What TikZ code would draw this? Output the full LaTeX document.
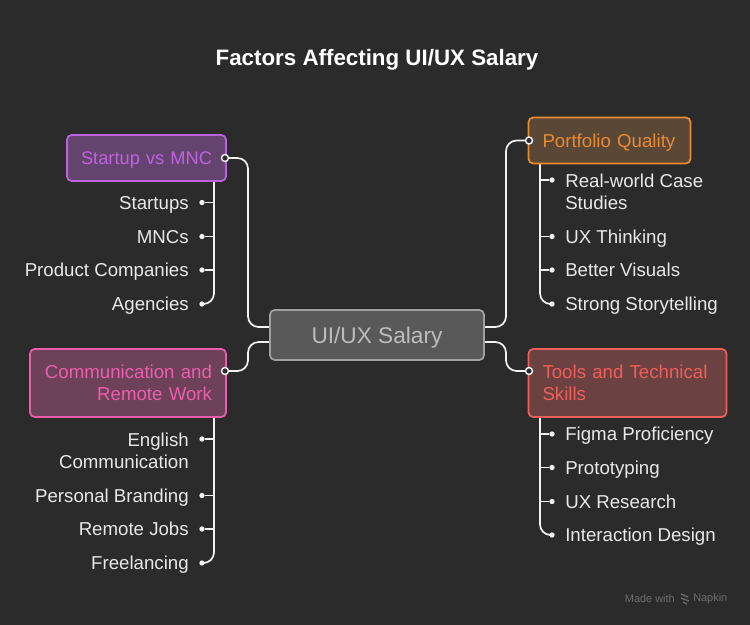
\documentclass[tikz,border=0pt]{standalone}
\usepackage{fontspec}
\setmainfont{Liberation Sans}
\definecolor{backgr}{HTML}{2B2B2B}
\definecolor{itemtext}{HTML}{E8E8E8}
\definecolor{wirecol}{HTML}{F2F2F2}
\definecolor{centrefill}{HTML}{595959}
\definecolor{centreline}{HTML}{A0A0A0}
\definecolor{centretext}{HTML}{BDBDBD}
\definecolor{startupcol}{HTML}{BE62E0}
\definecolor{startupfill}{HTML}{64446F}
\definecolor{portfoliocol}{HTML}{E98A30}
\definecolor{portfoliofill}{HTML}{5B4736}
\definecolor{commcol}{HTML}{EC5EAB}
\definecolor{commfill}{HTML}{6C4159}
\definecolor{toolscol}{HTML}{EE5F59}
\definecolor{toolsfill}{HTML}{6C4141}
\definecolor{brandcol}{HTML}{6E6E6E}
\pgfdeclarelayer{back}
\pgfdeclarelayer{wires}
\pgfsetlayers{back,wires,main}
\newcommand{\linestrut}{\rule[-3.45pt]{0pt}{16.9pt}}
\tikzset{
	labelfont/.style={font=\fontsize{14}{16.9}\selectfont, execute at begin node=\linestrut, execute at end node=\linestrut},
	box/.style={draw, rounded corners=3.5pt, line width=1.3pt, inner xsep=10.5pt, inner ysep=0pt, labelfont},
	wire/.style={draw=wirecol, line width=1.3pt, rounded corners=8pt},
	itemleft/.style={anchor=east, align=right, text=itemtext, inner sep=0pt, labelfont},
	itemright/.style={anchor=west, align=left, text=itemtext, inner sep=0pt, labelfont},
	subdot/.style={circle, fill=wirecol, inner sep=0pt, minimum size=4pt},
	portdot/.style={circle, draw=wirecol, fill=backgr, line width=1.1pt, inner sep=0pt, minimum size=5.2pt}
}
\begin{document}
\begin{tikzpicture}[x=0.75pt, y=-0.75pt]
	\begin{pgfonlayer}{back}
	\fill[backgr] (0,0) rectangle (750,625);
	\end{pgfonlayer}
	\useasboundingbox (0,0) rectangle (750,625);
	%title
	\node[text=white, font=\fontsize{16.75}{20}\selectfont\bfseries] (title) at (377,59) {\rule[-2pt]{0pt}{16pt}Factors Affecting UI/UX Salary};
	%boxes
	\node[draw=centreline, fill=centrefill, text=centretext, rounded corners=3.5pt, line width=1.3pt, inner sep=0pt, minimum width=160.5pt, minimum height=37.5pt, font=\fontsize{17}{20}\selectfont] (salary) at (377,335) {\rule[-4pt]{0pt}{20pt}UI/UX Salary};
	\node[box, draw=startupcol, fill=startupfill, text=startupcol, text width=98.25pt, align=right, minimum height=34.5pt, font=\fontsize{13.7}{16.9}\selectfont] (startup) at (146.5,158) {Startup vs MNC};
	\node[box, draw=portfoliocol, fill=portfoliofill, text=portfoliocol, text width=100.5pt, align=left, minimum height=34.5pt] (portfolio) at (609.5,140.5) {Portfolio Quality};
	\node[box, draw=commcol, fill=commfill, text=commcol, text width=126pt, align=right, minimum height=51pt] (comm) at (128,383) {Communication and\\Remote Work};
	\node[box, draw=toolscol, fill=toolsfill, text=toolscol, text width=127.5pt, align=left, minimum height=51pt] (tools) at (627.5,383) {Tools and Technical\\Skills};
	%ports on the boxes
	\node[portdot] (startupport) at (225,158) {};
	\node[portdot] (portfolioport) at (529,140.5) {};
	\node[portdot] (commport) at (225,371) {};
	\node[portdot] (toolsport) at (529,371) {};
	%startup list
	\node[subdot] (d1) at (202,202.5) {}; \node[itemleft] (startups) at (189,202.5) {Startups};
	\node[subdot] (d2) at (202,236.5) {}; \node[itemleft] (mncs) at (189,236.5) {MNCs};
	\node[subdot] (d3) at (202,270) {}; \node[itemleft] (product) at (189,270) {Product Companies};
	\node[subdot] (d4) at (202,304) {}; \node[itemleft] (agencies) at (189,304) {Agencies};
	%portfolio list
	\node[subdot] (d5) at (552,180) {}; \node[itemright] (cases) at (565,194) {Real-world Case\\Studies};
	\node[subdot] (d6) at (552,236.5) {}; \node[itemright] (thinking) at (565,236.5) {UX Thinking};
	\node[subdot] (d7) at (552,270) {}; \node[itemright] (visuals) at (565,270) {Better Visuals};
	\node[subdot] (d8) at (552,304) {}; \node[itemright] (story) at (565,304) {Strong Storytelling};
	%communication list
	\node[subdot] (d9) at (202,439) {}; \node[itemleft] (english) at (189,453) {English\\Communication};
	\node[subdot] (d10) at (202,495.5) {}; \node[itemleft] (branding) at (189,495.5) {Personal Branding};
	\node[subdot] (d11) at (202,529) {}; \node[itemleft] (remote) at (189,529) {Remote Jobs};
	\node[subdot] (d12) at (202,563) {}; \node[itemleft] (freelance) at (189,563) {Freelancing};
	%tools list
	\node[subdot] (d13) at (552,434) {}; \node[itemright] (figma) at (565,434) {Figma Proficiency};
	\node[subdot] (d14) at (552,467.5) {}; \node[itemright] (proto) at (565,467.5) {Prototyping};
	\node[subdot] (d15) at (552,501.5) {}; \node[itemright] (research) at (565,501.5) {UX Research};
	\node[subdot] (d16) at (552,535) {}; \node[itemright] (interaction) at (565,535) {Interaction Design};
	%wire ends and bends
	\coordinate (sl1) at (270,327);
	\coordinate (sl2) at (270,342);
	\coordinate (sr1) at (484,327);
	\coordinate (sr2) at (484,342);
	\coordinate (busl) at (248,335);
	\coordinate (busr) at (506,335);
	\coordinate (t1) at (214,181);
	\coordinate (t2) at (540,163);
	\coordinate (t3) at (214,417);
	\coordinate (t4) at (540,417);
	\begin{pgfonlayer}{wires}
	%from the centre
	\draw[wire] (sl1) -- (sl1 -| busl) -- (startupport -| busl) -- (startupport);
	\draw[wire] (sl2) -- (sl2 -| busl) -- (commport -| busl) -- (commport);
	\draw[wire] (sr1) -- (sr1 -| busr) -- (portfolioport -| busr) -- (portfolioport);
	\draw[wire] (sr2) -- (sr2 -| busr) -- (toolsport -| busr) -- (toolsport);
	%trunks
	\draw[wire] (t1) |- (d4);
	\draw[wire] (t2) |- (d8);
	\draw[wire] (t3) |- (d12);
	\draw[wire] (t4) |- (d16);
	%stubs
	\draw[wire] (d1 -| t1) -- (d1); \draw[wire] (d2 -| t1) -- (d2); \draw[wire] (d3 -| t1) -- (d3);
	\draw[wire] (d5 -| t2) -- (d5); \draw[wire] (d6 -| t2) -- (d6); \draw[wire] (d7 -| t2) -- (d7);
	\draw[wire] (d9 -| t3) -- (d9); \draw[wire] (d10 -| t3) -- (d10); \draw[wire] (d11 -| t3) -- (d11);
	\draw[wire] (d13 -| t4) -- (d13); \draw[wire] (d14 -| t4) -- (d14); \draw[wire] (d15 -| t4) -- (d15);
	\end{pgfonlayer}
	%made with
	\node[anchor=east, inner sep=0pt, text=brandcol, font=\fontsize{8.2}{9}\selectfont] (made) at (675,599) {Made with};
	\node[anchor=west, inner sep=0pt, text=brandcol, font=\fontsize{8.2}{9}\selectfont] (napkin) at (693,599) {Napkin};
	\draw[brandcol, line width=1pt] (681,594) -- (688,597) (681,598) -- (689,601) (683,602) -- (687,604);
\end{tikzpicture}
\end{document}
